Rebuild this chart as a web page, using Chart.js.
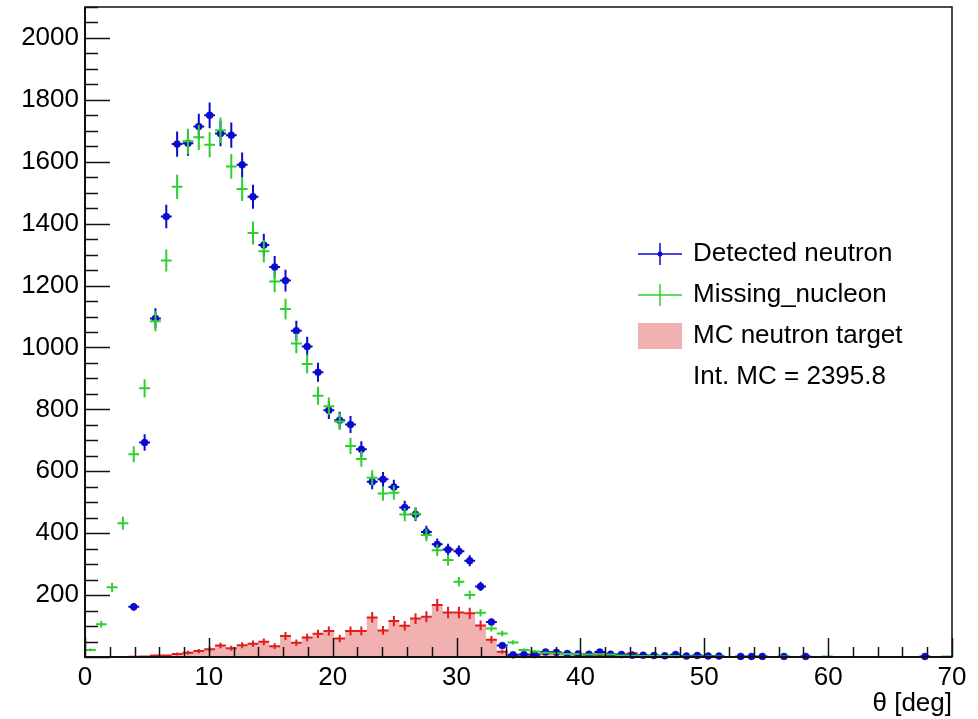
<!DOCTYPE html>
<html>
<head>
<meta charset="utf-8">
<script src="https://cdn.jsdelivr.net/npm/chart.js@4.4.0/dist/chart.umd.min.js"></script>
<style>
    html, body { margin: 0; padding: 0; background: #fff; }
</style>
</head>
<body>
<canvas id="graficoTheta" width="978" height="719"></canvas>
<script>
// binning do histograma (graus)
const xMin = 0;
const xMax = 70;
const nBins = 80;
const yMin = 0;
const yMax = 2100;

const detectedNeutron = [
    0, 0, 0, 0, 162, 693, 1094, 1423, 1657, 1660,
    1714, 1750, 1691, 1686, 1590, 1487, 1331, 1260, 1216, 1054,
    1003, 920, 797, 765, 751, 671, 566, 574, 549, 483,
    461, 404, 364, 347, 342, 311, 228, 113, 37, 7,
    8, 8, 16, 15, 11, 10, 9, 16, 9, 8,
    6, 6, 5, 4, 8, 3, 5, 3, 3, 0,
    2, 2, 2, 0, 2, 0, 2, 0, 0, 0,
    0, 0, 0, 0, 0, 0, 0, 2, 0, 0
];

const missingNucleon = [
    23, 106, 225, 432, 655, 868, 1085, 1281, 1519, 1666,
    1679, 1655, 1702, 1585, 1512, 1370, 1311, 1213, 1124, 1013,
    947, 844, 810, 761, 682, 640, 579, 528, 531, 460,
    463, 394, 345, 313, 243, 200, 143, 92, 76, 47,
    23, 18, 14, 12, 10, 10, 8, 9, 8, 5,
    4, 3, 3, 3, 3, 2, 2, 2, 2, 0,
    0, 0, 0, 0, 2, 0, 0, 0, 2, 0,
    0, 0, 0, 0, 0, 0, 0, 0, 0, 2
];

const mcNeutronTarget = [
    0, 0, 0, 0, 1, 2, 5, 5, 10, 14,
    19, 25, 37, 28, 38, 43, 49, 35, 68, 46,
    63, 75, 84, 60, 84, 84, 128, 86, 116, 101,
    124, 130, 168, 144, 144, 141, 102, 56, 17, 3,
    2, 3, 12, 13, 10, 8, 5, 5, 5, 2,
    12, 0, 0, 0, 0, 0, 0, 0, 0, 0,
    0, 0, 0, 0, 0, 0, 0, 0, 0, 0,
    0, 0, 0, 0, 0, 0, 0, 0, 0, 0
];

const legendLabels = ['Detected neutron', 'Missing_nucleon', 'MC neutron target'];
const intMC = 'Int. MC = 2395.8';
const xTitle = 'θ [deg]';

const xStep = 10, xMinorStep = 2;
const yStep = 200, yMinorStep = 50;

const fonte = '"Liberation Sans", Arial, Helvetica, sans-serif';
const corAzul = '#0b0bcf';
const corVerde = '#2ecf2e';
const corVermelho = '#e01c1c';
const corRosa = '#f2b1b1';

const larguraBin = (xMax - xMin) / nBins;
const centros = detectedNeutron.map((v, i) => xMin + (i + 0.5) * larguraBin);

function pontos(valores) {
    const out = [];
    valores.forEach((v, i) => { if (v > 0) out.push({ x: centros[i], y: v }); });
    return out;
}

// erros de Poisson para os dados, pesos do MC ~2.4 por evento
function erros(valores, fator) {
    return valores.filter(v => v > 0).map(v => fator * Math.sqrt(v));
}

// histograma em degraus para o preenchimento
const degraus = mcNeutronTarget.map((v, i) => ({ x: xMin + i * larguraBin, y: v }));
degraus.push({ x: xMax, y: 0 });

const barrasErro = {
    id: 'barrasErro',
    beforeDatasetDraw(chart, args) {
        const ds = chart.data.datasets[args.index];
        if (!ds.erros) return;
        const ctx = chart.ctx;
        const sx = chart.scales.x, sy = chart.scales.y;
        ctx.save();
        ctx.strokeStyle = ds.corErro;
        ctx.lineWidth = 2;
        ds.data.forEach((p, i) => {
            const e = ds.erros[i];
            const px = sx.getPixelForValue(p.x);
            const py = sy.getPixelForValue(p.y);
            ctx.beginPath();
            ctx.moveTo(sx.getPixelForValue(p.x - larguraBin / 2), py);
            ctx.lineTo(sx.getPixelForValue(p.x + larguraBin / 2), py);
            ctx.moveTo(px, sy.getPixelForValue(p.y + e));
            ctx.lineTo(px, sy.getPixelForValue(Math.max(p.y - e, 0)));
            ctx.stroke();
        });
        ctx.restore();
    }
};

const moldura = {
    id: 'moldura',
    afterDatasetsDraw(chart) {
        const ctx = chart.ctx;
        const a = chart.chartArea;
        const sx = chart.scales.x, sy = chart.scales.y;
        ctx.save();
        ctx.strokeStyle = '#111';
        ctx.lineWidth = 1.5;
        ctx.strokeRect(a.left, a.top, a.right - a.left, a.bottom - a.top);
        ctx.lineWidth = 2;
        ctx.beginPath();
        ctx.moveTo(a.left, a.top);
        ctx.lineTo(a.left, a.bottom);
        ctx.lineTo(a.right, a.bottom);
        ctx.stroke();

        ctx.lineWidth = 1.5;
        ctx.beginPath();
        for (let v = xMin; v <= xMax + 1e-9; v += xMinorStep) {
            const px = Math.round(sx.getPixelForValue(v)) + 0.5;
            const major = Math.abs(v / xStep - Math.round(v / xStep)) < 1e-6;
            const len = major ? 19 : 10;
            ctx.moveTo(px, a.bottom);
            ctx.lineTo(px, a.bottom - len);
        }
        for (let v = yMin; v <= yMax + 1e-9; v += yMinorStep) {
            const py = Math.round(sy.getPixelForValue(v)) + 0.5;
            const major = v % yStep === 0;
            const len = major ? 25 : 13;
            ctx.moveTo(a.left, py);
            ctx.lineTo(a.left + len, py);
        }
        ctx.stroke();
        ctx.restore();
    }
};

const legenda = {
    id: 'legenda',
    afterDraw(chart) {
        const ctx = chart.ctx;
        const x0 = 638, x1 = 682, xc = 660, xt = 693;
        const linhas = [254, 295, 336, 377];
        ctx.save();
        ctx.lineWidth = 1.5;
        // Detected neutron
        ctx.strokeStyle = corAzul;
        ctx.beginPath();
        ctx.moveTo(x0, linhas[0]); ctx.lineTo(x1, linhas[0]);
        ctx.moveTo(xc, linhas[0] - 11); ctx.lineTo(xc, linhas[0] + 11);
        ctx.stroke();
        ctx.fillStyle = corAzul;
        ctx.beginPath();
        ctx.arc(xc, linhas[0], 2.5, 0, Math.PI * 2);
        ctx.fill();
        // Missing_nucleon
        ctx.strokeStyle = corVerde;
        ctx.beginPath();
        ctx.moveTo(x0, linhas[1]); ctx.lineTo(x1, linhas[1]);
        ctx.moveTo(xc, linhas[1] - 11); ctx.lineTo(xc, linhas[1] + 11);
        ctx.stroke();
        // MC
        ctx.fillStyle = corRosa;
        ctx.fillRect(x0, linhas[2] - 13, x1 - x0, 26);

        ctx.fillStyle = '#000';
        ctx.font = '26px ' + fonte;
        ctx.textBaseline = 'middle';
        ctx.textAlign = 'left';
        legendLabels.forEach((t, i) => ctx.fillText(t, xt, linhas[i]));
        ctx.fillText(intMC, xt, linhas[3]);
        ctx.restore();
    }
};

const grafico = new Chart(document.getElementById('graficoTheta').getContext('2d'), {
    type: 'scatter',
    data: {
        datasets: [
            {
                label: legendLabels[1],
                data: pontos(missingNucleon),
                erros: erros(missingNucleon, 1),
                corErro: corVerde,
                pointRadius: 0,
                showLine: false,
                clip: false
            },
            {
                label: legendLabels[0],
                data: pontos(detectedNeutron),
                erros: erros(detectedNeutron, 1),
                corErro: corAzul,
                pointRadius: 3.5,
                pointStyle: 'circle',
                backgroundColor: corAzul,
                borderColor: corAzul,
                borderWidth: 0.5,
                showLine: false,
                clip: false
            },
            {
                label: legendLabels[2] + ' erros',
                data: pontos(mcNeutronTarget),
                erros: erros(mcNeutronTarget, 1.55),
                corErro: corVermelho,
                pointRadius: 0,
                showLine: false,
                clip: false
            },
            {
                type: 'line',
                label: legendLabels[2],
                data: degraus,
                stepped: true,
                fill: 'origin',
                backgroundColor: corRosa,
                borderColor: 'rgba(0,0,0,0)',
                pointRadius: 0,
                showLine: true
            }
        ]
    },
    options: {
        responsive: false,
        devicePixelRatio: 1,
        animation: false,
        layout: { padding: { top: 7, right: 26, left: 0, bottom: 0 } },
        plugins: {
            legend: { display: false },
            tooltip: { enabled: false }
        },
        scales: {
            x: {
                type: 'linear',
                min: xMin,
                max: xMax,
                grid: { display: false, drawTicks: false },
                border: { display: false },
                ticks: {
                    stepSize: xStep,
                    padding: 5,
                    color: '#000',
                    font: { family: fonte, size: 26 }
                },
                title: {
                    display: true,
                    text: xTitle,
                    align: 'end',
                    color: '#000',
                    font: { family: fonte, size: 26 },
                    padding: { top: 0, bottom: 0 }
                },
                afterFit: (s) => {
                    s.height = 62;
                    s.paddingLeft = 0;
                    s.paddingRight = 0;
                }
            },
            y: {
                type: 'linear',
                min: yMin,
                max: yMax,
                grid: { display: false, drawTicks: false },
                border: { display: false },
                ticks: {
                    stepSize: yStep,
                    includeBounds: false,
                    padding: 6,
                    color: '#000',
                    font: { family: fonte, size: 26 },
                    callback: (v) => v === 0 ? '' : v
                },
                afterFit: (s) => {
                    s.width = 85;
                    s.paddingTop = 0;
                    s.paddingBottom = 0;
                }
            }
        }
    },
    plugins: [barrasErro, moldura, legenda]
});
</script>
</body>
</html>
